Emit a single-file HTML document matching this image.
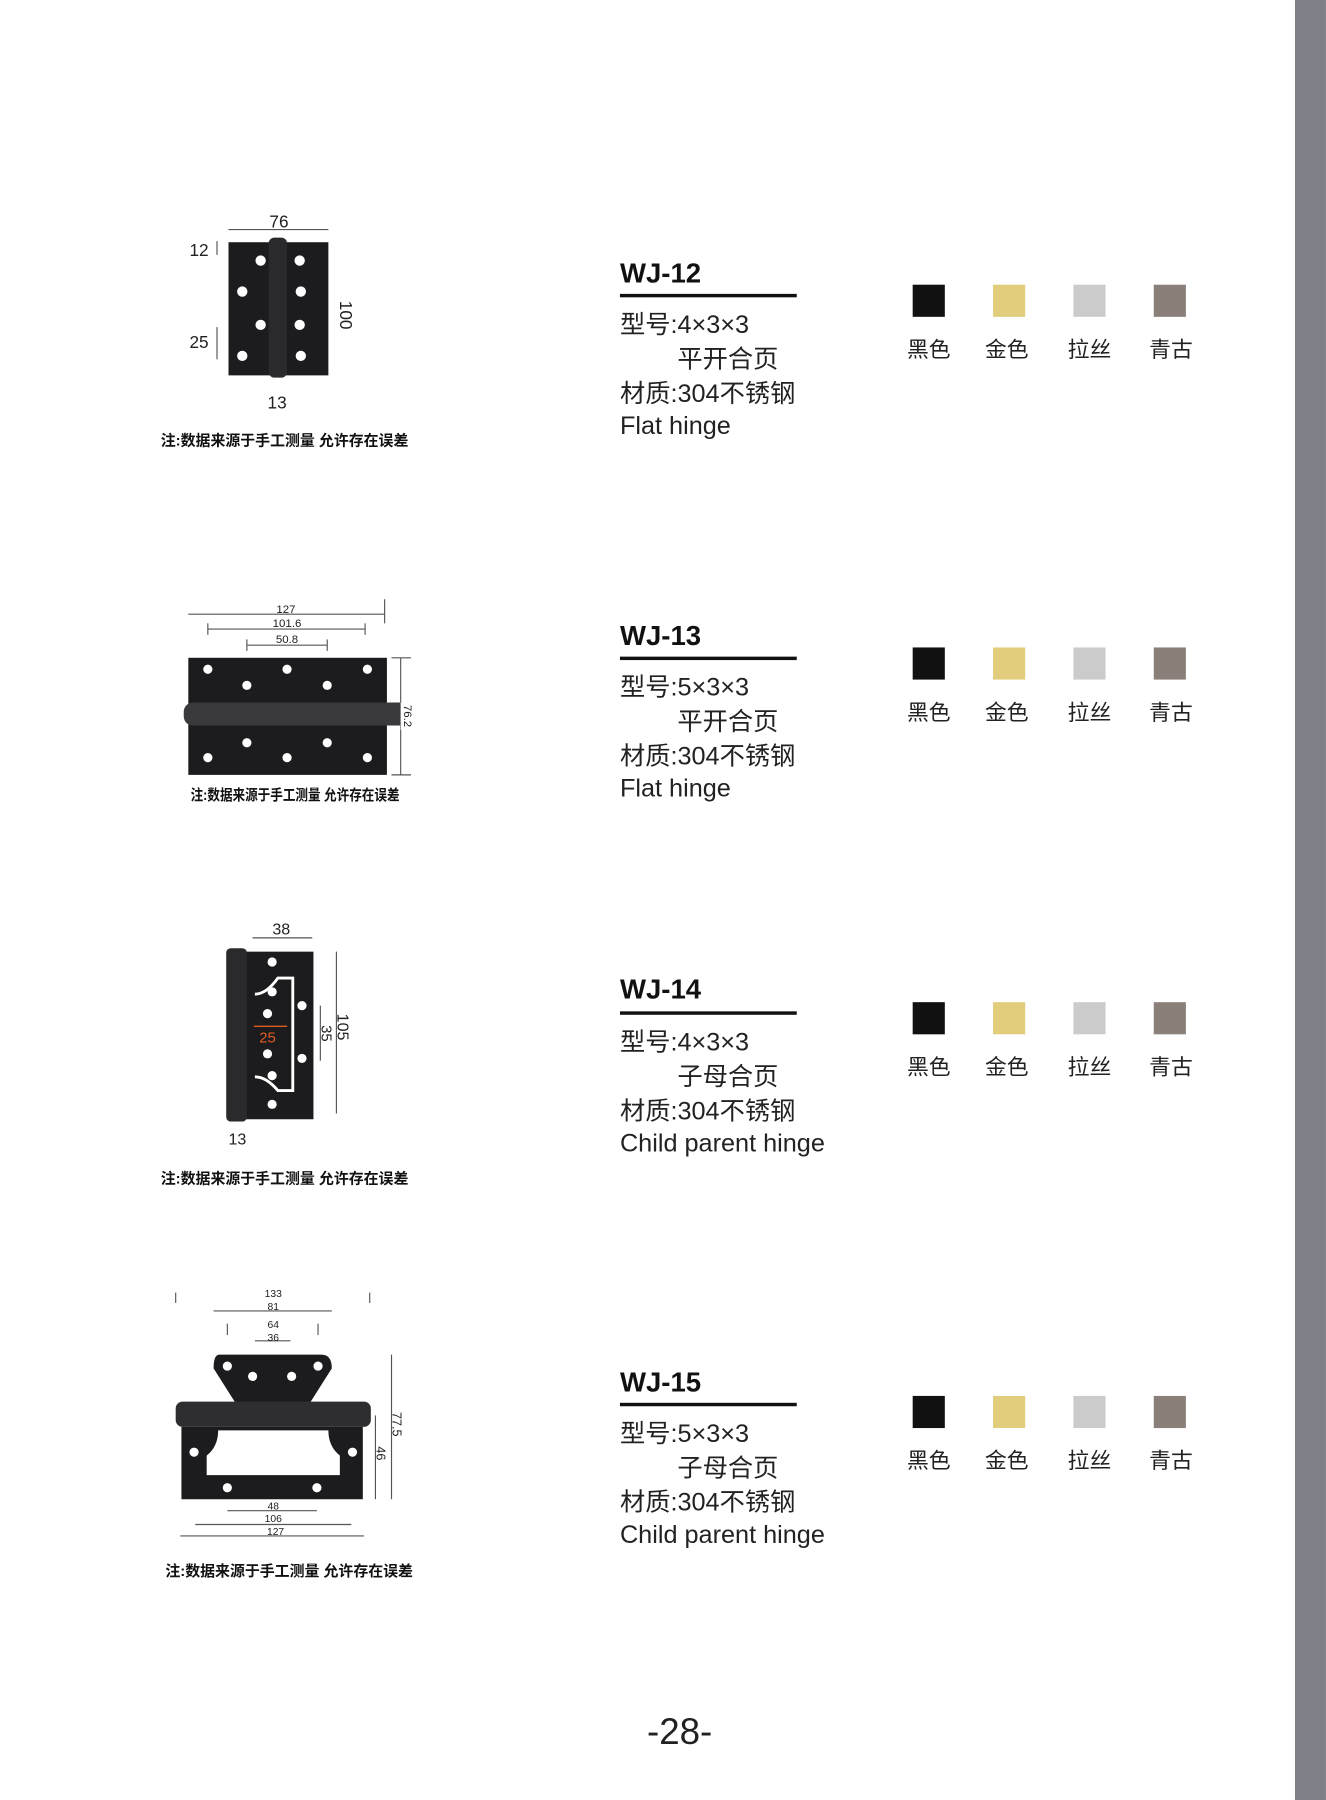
<!DOCTYPE html>
<html><head><meta charset="utf-8"><style>
html,body{margin:0;padding:0;background:#fff;}
svg{display:block;}
text{font-family:"Liberation Sans","Noto Sans CJK SC",sans-serif;}
.t{font-size:22px;fill:#222;}
.h{font-size:24px;font-weight:bold;fill:#111;}
.sw{font-size:19px;fill:#222;}
.n{font-size:13px;fill:#111;font-weight:bold;}
.d{fill:#222;}
.dl{stroke:#555;stroke-width:1;fill:none;}
</style></head><body>
<svg width="1326" height="1800" viewBox="0 0 1155 1568" xmlns="http://www.w3.org/2000/svg">
<rect x="1128" y="0" width="27" height="1568" fill="#7f8088"/>

<g id="b1">
<text x="540" y="246" class="h">WJ-12</text>
<rect x="540" y="256" width="154" height="3" fill="#111"/>
<text x="540" y="290" class="t">型号:4×3×3</text>
<text x="590" y="320" class="t">平开合页</text>
<text x="540" y="350" class="t">材质:304不锈钢</text>
<text x="540" y="378" class="t">Flat hinge</text>
<rect x="795" y="248" width="28" height="28" fill="#111"/>
<rect x="865" y="248" width="28" height="28" fill="#e1cd7c"/>
<rect x="935" y="248" width="28" height="28" fill="#cbcbcb"/>
<rect x="1005" y="248" width="28" height="28" fill="#8b7f7a"/>
<text x="809" y="311" class="sw" text-anchor="middle">黑色</text>
<text x="877" y="311" class="sw" text-anchor="middle">金色</text>
<text x="949" y="311" class="sw" text-anchor="middle">拉丝</text>
<text x="1020" y="311" class="sw" text-anchor="middle">青古</text>
</g>
<g transform="translate(0,316)">
<text x="540" y="246" class="h">WJ-13</text>
<rect x="540" y="256" width="154" height="3" fill="#111"/>
<text x="540" y="290" class="t">型号:5×3×3</text>
<text x="590" y="320" class="t">平开合页</text>
<text x="540" y="350" class="t">材质:304不锈钢</text>
<text x="540" y="378" class="t">Flat hinge</text>
<rect x="795" y="248" width="28" height="28" fill="#111"/>
<rect x="865" y="248" width="28" height="28" fill="#e1cd7c"/>
<rect x="935" y="248" width="28" height="28" fill="#cbcbcb"/>
<rect x="1005" y="248" width="28" height="28" fill="#8b7f7a"/>
<text x="809" y="311" class="sw" text-anchor="middle">黑色</text>
<text x="877" y="311" class="sw" text-anchor="middle">金色</text>
<text x="949" y="311" class="sw" text-anchor="middle">拉丝</text>
<text x="1020" y="311" class="sw" text-anchor="middle">青古</text>
</g>
<g transform="translate(0,625)">
<text x="540" y="245" class="h">WJ-14</text>
<rect x="540" y="256" width="154" height="3" fill="#111"/>
<text x="540" y="290" class="t">型号:4×3×3</text>
<text x="590" y="320" class="t">子母合页</text>
<text x="540" y="350" class="t">材质:304不锈钢</text>
<text x="540" y="378" class="t">Child parent hinge</text>
<rect x="795" y="248" width="28" height="28" fill="#111"/>
<rect x="865" y="248" width="28" height="28" fill="#e1cd7c"/>
<rect x="935" y="248" width="28" height="28" fill="#cbcbcb"/>
<rect x="1005" y="248" width="28" height="28" fill="#8b7f7a"/>
<text x="809" y="311" class="sw" text-anchor="middle">黑色</text>
<text x="877" y="311" class="sw" text-anchor="middle">金色</text>
<text x="949" y="311" class="sw" text-anchor="middle">拉丝</text>
<text x="1020" y="311" class="sw" text-anchor="middle">青古</text>
</g>
<g transform="translate(0,966)">
<text x="540" y="246" class="h">WJ-15</text>
<rect x="540" y="256" width="154" height="3" fill="#111"/>
<text x="540" y="290" class="t">型号:5×3×3</text>
<text x="590" y="320" class="t">子母合页</text>
<text x="540" y="350" class="t">材质:304不锈钢</text>
<text x="540" y="378" class="t">Child parent hinge</text>
<rect x="795" y="250" width="28" height="28" fill="#111"/>
<rect x="865" y="250" width="28" height="28" fill="#e1cd7c"/>
<rect x="935" y="250" width="28" height="28" fill="#cbcbcb"/>
<rect x="1005" y="250" width="28" height="28" fill="#8b7f7a"/>
<text x="809" y="313" class="sw" text-anchor="middle">黑色</text>
<text x="877" y="313" class="sw" text-anchor="middle">金色</text>
<text x="949" y="313" class="sw" text-anchor="middle">拉丝</text>
<text x="1020" y="313" class="sw" text-anchor="middle">青古</text>
</g>

<!-- Hinge 1 -->
<g>
<line x1="199" y1="200" x2="286" y2="200" class="dl"/>
<text x="243" y="198" font-size="15" text-anchor="middle" class="d">76</text>
<rect x="199" y="211" width="36" height="116" fill="#1c1c1e"/>
<rect x="248" y="211" width="38" height="116" fill="#1c1c1e"/>
<rect x="234" y="207" width="16" height="122" rx="5" fill="#2a2a2c"/>
<g fill="#fff"><circle cx="227" cy="227" r="4.5"/><circle cx="211" cy="254" r="4.5"/><circle cx="227" cy="283" r="4.5"/><circle cx="211" cy="310" r="4.5"/>
<circle cx="261" cy="227" r="4.5"/><circle cx="262" cy="254" r="4.5"/><circle cx="261" cy="283" r="4.5"/><circle cx="262" cy="310" r="4.5"/></g>
<text x="165" y="223" font-size="15" class="d">12</text>
<line x1="189" y1="210" x2="189" y2="222" class="dl"/>
<text x="165" y="303" font-size="15" class="d">25</text>
<line x1="189" y1="285" x2="189" y2="313" class="dl"/>
<text x="296" y="262" font-size="15" class="d" transform="rotate(90 296 262)">100</text>
<text x="233" y="356" font-size="15" class="d">13</text>
<text x="140" y="388" class="n">注:数据来源于手工测量 允许存在误差</text>
</g>

<!-- Hinge 2 -->
<g>
<line x1="164" y1="535" x2="335" y2="535" class="dl"/><line x1="335" y1="522" x2="335" y2="543" class="dl"/>
<text x="249" y="534" font-size="10" text-anchor="middle" class="d">127</text>
<line x1="181" y1="548" x2="318" y2="548" class="dl"/><line x1="181" y1="543" x2="181" y2="553" class="dl"/><line x1="318" y1="543" x2="318" y2="553" class="dl"/>
<text x="250" y="546" font-size="10" text-anchor="middle" class="d">101.6</text>
<line x1="215" y1="562" x2="285" y2="562" class="dl"/><line x1="215" y1="557" x2="215" y2="567" class="dl"/><line x1="285" y1="557" x2="285" y2="567" class="dl"/>
<text x="250" y="560" font-size="10" text-anchor="middle" class="d">50.8</text>
<rect x="164" y="573" width="173" height="102" fill="#1c1c1e"/>
<rect x="160" y="612" width="197" height="20" rx="8" fill="#3a3a3d"/>
<g fill="#fff"><circle cx="181" cy="583" r="4"/><circle cx="250" cy="583" r="4"/><circle cx="320" cy="583" r="4"/><circle cx="215" cy="597" r="4"/><circle cx="285" cy="597" r="4"/>
<circle cx="215" cy="647" r="4"/><circle cx="285" cy="647" r="4"/><circle cx="181" cy="660" r="4"/><circle cx="250" cy="660" r="4"/><circle cx="320" cy="660" r="4"/></g>
<line x1="341" y1="573" x2="358" y2="573" class="dl"/><line x1="341" y1="675" x2="358" y2="675" class="dl"/><line x1="349" y1="573" x2="349" y2="675" class="dl"/>
<rect x="349" y="612" width="14" height="24" fill="#fff"/>
<text x="352" y="614" font-size="10" class="d" transform="rotate(90 352 614)">76.2</text>
<text x="166" y="697" font-size="11" class="n" textLength="182" lengthAdjust="spacingAndGlyphs">注:数据来源于手工测量 允许存在误差</text>
</g>

<!-- Hinge 3 -->
<g>
<line x1="220" y1="817" x2="272" y2="817" class="dl"/>
<text x="245" y="814" font-size="14" text-anchor="middle" class="d">38</text>
<rect x="213" y="829" width="60" height="146" fill="#1c1c1e"/>
<rect x="197" y="826" width="18" height="151" rx="4" fill="#2a2a2c"/>
<path d="M222 866 Q232 866 242 852 L255 852 L255 950 L242 950 Q232 938 222 938" stroke="#fff" stroke-width="2.5" fill="none"/>
<g fill="#fff"><circle cx="237" cy="838" r="4"/><circle cx="237" cy="864" r="4"/><circle cx="233" cy="883" r="4"/><circle cx="233" cy="918" r="4"/><circle cx="237" cy="937" r="4"/><circle cx="237" cy="962" r="4"/><circle cx="263" cy="876" r="4"/><circle cx="263" cy="922" r="4"/></g>
<line x1="221" y1="894" x2="250" y2="894" stroke="#e05a20" stroke-width="1.2"/>
<text x="233" y="908" font-size="13" fill="#e05a20" text-anchor="middle">25</text>
<line x1="279" y1="876" x2="279" y2="924" class="dl"/>
<text x="280" y="893" font-size="13" class="d" transform="rotate(90 280 893)">35</text>
<line x1="293" y1="829" x2="293" y2="970" class="dl"/>
<text x="294" y="883" font-size="14" class="d" transform="rotate(90 294 883)">105</text>
<text x="199" y="997" font-size="14" class="d">13</text>
<text x="140" y="1031" class="n">注:数据来源于手工测量 允许存在误差</text>
</g>

<!-- Hinge 4 -->
<g>
<line x1="153" y1="1126" x2="153" y2="1135" class="dl"/><line x1="322" y1="1126" x2="322" y2="1135" class="dl"/>
<text x="238" y="1130" font-size="9" text-anchor="middle" class="d">133</text>
<line x1="186" y1="1142" x2="289" y2="1142" class="dl"/>
<text x="238" y="1141" font-size="9" text-anchor="middle" class="d">81</text>
<line x1="198" y1="1153" x2="198" y2="1163" class="dl"/><line x1="277" y1="1153" x2="277" y2="1163" class="dl"/>
<text x="238" y="1157" font-size="9" text-anchor="middle" class="d">64</text>
<line x1="222" y1="1168" x2="253" y2="1168" class="dl"/>
<text x="238" y="1168" font-size="9" text-anchor="middle" class="d">36</text>
<path d="M191 1180 L280 1180 Q289 1180 289 1192 L270 1222 L205 1222 L186 1192 Q186 1180 191 1180Z" fill="#1c1c1e"/>
<path d="M158 1243 L316 1243 L316 1306 L158 1306Z M190 1246 Q190 1260 180 1268 L180 1285 L296 1285 L296 1268 Q286 1260 286 1246Z" fill="#1c1c1e" fill-rule="evenodd"/>
<rect x="153" y="1221" width="170" height="22" rx="6" fill="#2e2e31"/>
<g fill="#fff"><circle cx="198" cy="1190" r="4"/><circle cx="277" cy="1190" r="4"/><circle cx="220" cy="1199" r="4"/><circle cx="254" cy="1199" r="4"/>
<circle cx="169" cy="1265" r="4"/><circle cx="307" cy="1265" r="4"/><circle cx="198" cy="1296" r="4"/><circle cx="276" cy="1296" r="4"/></g>
<line x1="341" y1="1180" x2="341" y2="1306" class="dl"/>
<text x="342" y="1230" font-size="11" class="d" transform="rotate(90 342 1230)">77.5</text>
<line x1="327" y1="1233" x2="327" y2="1306" class="dl"/>
<text x="328" y="1260" font-size="11" class="d" transform="rotate(90 328 1260)">46</text>
<line x1="198" y1="1316" x2="276" y2="1316" class="dl"/>
<text x="238" y="1315" font-size="9" text-anchor="middle" class="d">48</text>
<line x1="170" y1="1328" x2="306" y2="1328" class="dl"/>
<text x="238" y="1326" font-size="9" text-anchor="middle" class="d">106</text>
<line x1="157" y1="1338" x2="317" y2="1338" class="dl"/>
<text x="240" y="1337" font-size="9" text-anchor="middle" class="d">127</text>
<text x="144" y="1373" class="n">注:数据来源于手工测量 允许存在误差</text>
</g>

<text x="592" y="1519" font-size="32" text-anchor="middle" fill="#222">-28-</text>
</svg>
</body></html>
